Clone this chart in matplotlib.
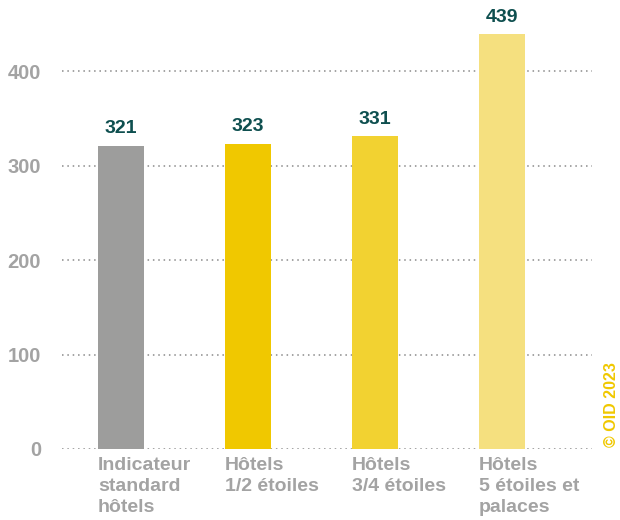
import matplotlib
matplotlib.use("Agg")
import matplotlib.pyplot as plt

categories = ["Indicateur\nstandard\nhôtels", "Hôtels\n1/2 étoiles", "Hôtels\n3/4 étoiles", "Hôtels\n5 étoiles et\npalaces"]
values = [321, 323, 331, 439]
colors = ["#9d9d9c", "#f0c800", "#f2d231", "#f5e07f"]
yticks = [0, 100, 200, 300, 400]

plt.rcParams['font.family'] = ['Liberation Sans', 'DejaVu Sans']

fig = plt.figure(figsize=(6.2, 5.2), dpi=100)
ax = fig.add_axes([62/620, 71/520, 530/620, (449-20)/520])

x = list(range(len(categories)))
w = 0.362
ax.bar(x, values, width=w, color=colors, zorder=2)
ax.set_xlim(-0.465, 3.71)
ax.set_ylim(0, 454)

for yv in yticks:
    ax.axhline(yv, color="#8a8a8a", linestyle=(0, (1, 2.5)), linewidth=1.1, zorder=1)

ax.set_yticks(yticks)
ax.set_yticklabels([str(t) for t in yticks], fontsize=14.5, fontweight="bold", color="#a3a3a3")
ax.tick_params(axis="y", length=0, pad=15)
ax.set_xticks([])
for s in ax.spines.values():
    s.set_visible(False)

for xi, v in zip(x, values):
    ax.annotate(str(v), (xi, v), xytext=(0, 6), textcoords="offset points",
                ha="center", va="bottom", fontsize=14, fontweight="bold", color="#0e4f4f")

for xi, lab in zip(x, categories):
    ax.annotate(lab, (xi - w/2, 0), xytext=(0, -6), textcoords="offset points",
                ha="left", va="top", fontsize=14, fontweight="bold", color="#a3a3a3",
                linespacing=1.3, annotation_clip=False)

fig.text(611/620, 1 - 405/520, "© OID 2023", rotation=90, ha="center", va="center",
         fontsize=11.5, fontweight="bold", color="#f0c800")

fig.savefig("out.png", dpi=100)
